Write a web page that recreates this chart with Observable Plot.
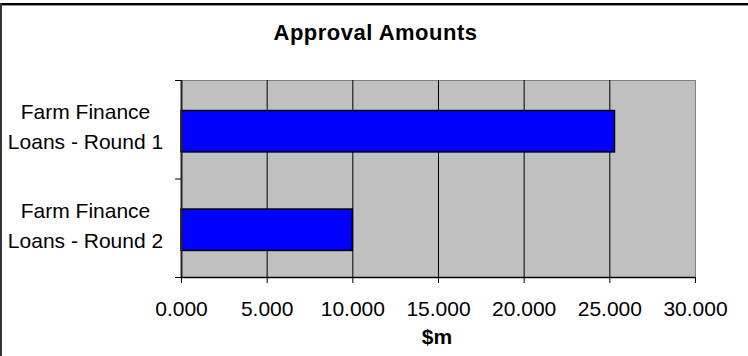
<!DOCTYPE html>
<html>
<head>
<meta charset="utf-8">
<script src="https://cdn.jsdelivr.net/npm/d3@7"></script>
<script src="https://cdn.jsdelivr.net/npm/@observablehq/plot@0.6"></script>
<style>
  html, body { margin: 0; padding: 0; background: #fff; }
  #chart { position: relative; width: 748px; height: 356px; overflow: hidden; background: #fff; }
  #chart .edge-top { position: absolute; left: 0; top: 3px; width: 748px; height: 2px; background: #000; }
  #chart .edge-top2 { position: absolute; left: 0; top: 5px; width: 748px; height: 1px; background: #9a9a9a; }
  #chart .edge-left { position: absolute; left: 0; top: 3px; width: 2px; height: 353px; background: #333; }
  #title {
    height: 60px; box-sizing: border-box; padding: 20px 0 0 3px;
    line-height: 25px; text-align: center;
    font: bold 22px "Liberation Sans", Arial, sans-serif; letter-spacing: 0.5px; color: #000;
  }
  #chart svg { display: block; }
</style>
</head>
<body>
<div id="chart">
  <div id="title">Approval Amounts</div>
  <div class="edge-top"></div>
  <div class="edge-top2"></div>
  <div class="edge-left"></div>
</div>
<script>
// Approval amounts by loan round, in $m
const categories = ["Farm Finance\nLoans - Round 1", "Farm Finance\nLoans - Round 2"];
const amounts = [25.3, 10.0];
const xTicks = [0, 5, 10, 15, 20, 25, 30];
const gridTicks = [5, 10, 15, 20, 25];
const xLabel = "$m";

// one row per category; i is the category's slot on the vertical axis
const rows = categories.map((label, i) => ({i, label, amount: amounts[i]}));
const slotEdges = d3.range(categories.length + 1);

const chart = Plot.plot({
  width: 748,
  height: 296,
  marginTop: 20,
  marginBottom: 79,
  marginLeft: 181,
  marginRight: 53,
  style: {fontFamily: "'Liberation Sans', Arial, sans-serif", fontSize: "21px", color: "#000", background: "transparent"},
  x: {domain: [0, 30]},
  y: {domain: [0, categories.length], reverse: true},
  marks: [
    Plot.frame({fill: "#C0C0C0", stroke: "#808080"}),
    Plot.gridX(gridTicks, {stroke: "#000", strokeOpacity: 1, strokeWidth: 1}),
    Plot.rectX(rows, {
      x1: 0, x2: "amount",
      y1: d => d.i + 0.31, y2: d => d.i + 0.73,
      fill: "#0000FF", stroke: "#000", strokeWidth: 1.5
    }),
    Plot.ruleX([0], {stroke: "#222", strokeWidth: 2}),
    Plot.ruleY([categories.length], {stroke: "#000", strokeWidth: 1.5}),
    Plot.axisX({ticks: xTicks, tickFormat: d3.format(".3f"), tickSize: 6, tickPadding: 18, label: null, fontSize: 21}),
    Plot.axisY({ticks: slotEdges, tickFormat: () => "", tickSize: 6, label: null}),
    Plot.text(rows, {
      x: 0, y: d => d.i + 0.5, text: "label",
      textAnchor: "middle", dx: -96, dy: -5,
      lineAnchor: "middle", lineHeight: 1.42, fontSize: 21, fill: "#000"
    }),
    Plot.text([xLabel], {
      frameAnchor: "bottom", text: d => d, dx: -1.5, dy: 52,
      lineAnchor: "top", fontWeight: "bold", fontSize: 21, fill: "#000"
    })
  ]
});

document.getElementById("chart").appendChild(chart);
</script>
</body>
</html>
